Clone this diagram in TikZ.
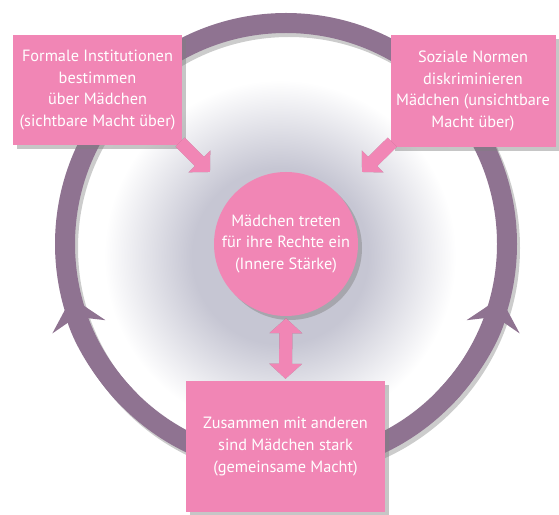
\documentclass[tikz,border=0pt]{standalone}
\usepackage{fontspec}
\setmainfont{PT Sans}
\usetikzlibrary{arrows.meta,shadows}
\definecolor{pinkc}{RGB}{241,134,181}
\definecolor{ringc}{RGB}{143,115,145}
\definecolor{glowc}{RGB}{198,198,211}
\pgfdeclareradialshading{glow}{\pgfpoint{0bp}{0bp}}{color(0bp)=(glowc); color(11bp)=(glowc); color(22bp)=(white); color(50bp)=(white)}

\begin{document}
\begin{tikzpicture}[x=1pt,y=1pt,
		pinkbox/.style={fill=pinkc, text=white, align=center, inner sep=0pt,
			font=\fontsize{16.3}{21.7}\selectfont,
			drop shadow={shadow xshift=4pt,shadow yshift=-4pt,opacity=.45}},
		ring/.style={ringc, line width=20pt},
		ringtip/.style={-{Stealth[length=30pt,width=54pt,inset=10pt]}},
		fatarrow/.style={pinkc, line width=13pt, -{Triangle[width=30pt,length=15pt]}},
		arrowshadow/.style={black, opacity=.3, xshift=3pt, yshift=-3pt}]
		\useasboundingbox (0,0) rectangle (559,514);
		\coordinate (m) at (286,270);
		% glow and ring
		\shade[shading=glow] (280,258) circle[radius=200];
		\draw[ring, black, opacity=.2] (289,266) circle[radius=221];
		\draw[ring] (m) circle[radius=221];
		\draw[ring, ringtip] (m) ++(225:221) arc[start angle=225, end angle=194, radius=221];
		\draw[ring, ringtip] (m) ++(-45:221) arc[start angle=-45, end angle=-14, radius=221];
		% boxes
		\node[pinkbox, minimum width=169pt, minimum height=110pt] (formal) at (97.5,424)
			{Formale Institutionen\\bestimmen\\über Mädchen\\(sichtbare Macht über)};
		\node[pinkbox, minimum width=165pt, minimum height=112pt] (social) at (473,423)
			{Soziale Normen\\diskriminieren\\Mädchen (unsichtbare\\Macht über)};
		\node[pinkbox, minimum width=199pt, minimum height=131pt] (together) at (285.5,67.5)
			{Zusammen mit anderen\\sind Mädchen stark\\(gemeinsame Macht)};
		\coordinate (formaltip) at (210,342);
		\coordinate (socialtip) at (362,342);
		% arrows
		\draw[fatarrow, arrowshadow] ([shift={(-2,3)}]formal.south east) -- (formaltip);
		\draw[fatarrow, arrowshadow] ([shift={(2,5)}]social.south west) -- (socialtip);
		\draw[fatarrow] ([shift={(-2,3)}]formal.south east) -- (formaltip);
		\draw[fatarrow] ([shift={(2,5)}]social.south west) -- (socialtip);
		\node[pinkbox, circle, minimum size=144pt] (girls) at (m)
			{Mädchen treten\\für ihre Rechte ein\\(Innere Stärke)};
		\draw[fatarrow, arrowshadow, {Triangle[width=32pt,length=15pt]}-{Triangle[width=32pt,length=15pt]}, shorten <=2pt, shorten >=2pt] (together.north) -- (girls.south);
		\draw[fatarrow, {Triangle[width=32pt,length=15pt]}-{Triangle[width=32pt,length=15pt]}, shorten <=2pt, shorten >=2pt] (together.north) -- (girls.south);
\end{tikzpicture}
\end{document}
